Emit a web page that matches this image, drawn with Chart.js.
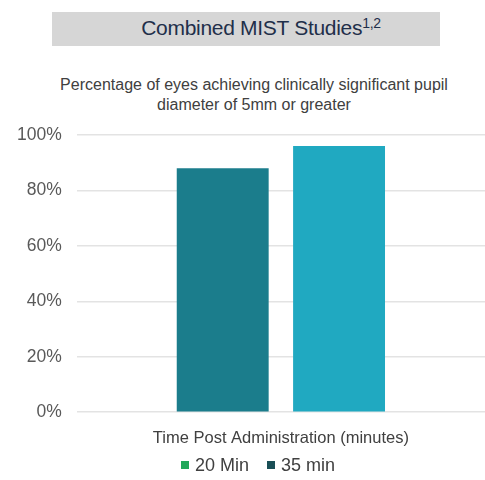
<!DOCTYPE html>
<html>
<head>
<meta charset="utf-8">
<script src="https://cdn.jsdelivr.net/npm/chart.js@4"></script>
<style>
  body { margin: 0; background: #fff; font-family: "Liberation Sans", Arial, sans-serif; }
  #wrap { position: relative; width: 485px; height: 480px; }
  #titlebox {
    position: absolute; left: 52px; top: 12px; width: 358px; height: 34px; padding-left: 30px;
    background: #d6d6d6; color: #1f2f4a; font-size: 21px; letter-spacing: -0.3px;
    text-align: center; line-height: 31px;
  }
  #titlebox sup { font-size: 14px; vertical-align: 7px; line-height: 0; }
  #sub {
    position: absolute; left: 14px; top: 75px; width: 480px;
    text-align: center; font-size: 16px; color: #404040; line-height: 20px;
  }
  #legenda {
    position: absolute; left: 181px; top: 454px; font-size: 18px; color: #404040;
    line-height: 22px; white-space: nowrap;
  }
  #legenda span.item { margin-right: 18px; }
  #legenda i { display: inline-block; width: 8px; height: 8px; margin-right: 6px; vertical-align: 2px; }
  canvas { position: absolute; left: 0; top: 0; }
</style>
</head>
<body>
<div id="wrap">
  <div id="titlebox">Combined MIST Studies<sup>1,2</sup></div>
  <div id="sub">Percentage of eyes achieving clinically significant pupil<br>diameter of 5mm or greater</div>
  <canvas id="grafico"></canvas>
  <div id="legenda"></div>
</div>
<script>
const categorias = ['Time Post Administration (minutes)'];
const series = ['20 Min', '35 min'];
const valores20 = [88];
const valores35 = [96];
const ticksY = [0, 20, 40, 60, 80, 100];

const coresBarra = ['#1b7d8c', '#20a9c1'];
const coresLegenda = ['#22a85a', '#1a4f56'];
const fonte = '"Liberation Sans", Arial, sans-serif';

const canvas = document.getElementById('grafico');
canvas.width = 485;
canvas.height = 480;
const ctx = canvas.getContext('2d');

const grafico = new Chart(ctx, {
    type: 'bar',
    data: {
        labels: categorias,
        datasets: [
            { label: series[0], data: valores20, backgroundColor: coresBarra[0] },
            { label: series[1], data: valores35, backgroundColor: coresBarra[1] }
        ]
    },
    options: {
        responsive: false,
        animation: false,
        layout: { padding: { top: 135, left: 2, right: 0, bottom: 24 } },
        datasets: { bar: { categoryPercentage: 0.57, barPercentage: 0.79 } },
        plugins: {
            legend: { display: false },
            tooltip: { enabled: false }
        },
        scales: {
            x: {
                grid: { display: false },
                border: { display: false },
                ticks: {
                    color: '#404040', padding: 8,
                    font: { size: 16.5, family: fonte }
                }
            },
            y: {
                min: 0, max: 100,
                afterBuildTicks: function (axis) {
                    axis.ticks = ticksY.map(function (v) { return { value: v }; });
                },
                grid: { color: '#e3e3e3', drawTicks: false, lineWidth: 1.5 },
                border: { display: false },
                ticks: {
                    color: '#595959', padding: 15,
                    font: { size: 17.5, family: fonte },
                    callback: function (v) { return v + '%'; }
                }
            }
        }
    }
});

// legenda em HTML (as cores da legenda diferem das barras no original)
const legenda = document.getElementById('legenda');
grafico.data.datasets.forEach(function (ds, i) {
    const item = document.createElement('span');
    item.className = 'item';
    const caixa = document.createElement('i');
    caixa.style.background = coresLegenda[i];
    item.appendChild(caixa);
    item.appendChild(document.createTextNode(ds.label));
    legenda.appendChild(item);
});
</script>
</body>
</html>
